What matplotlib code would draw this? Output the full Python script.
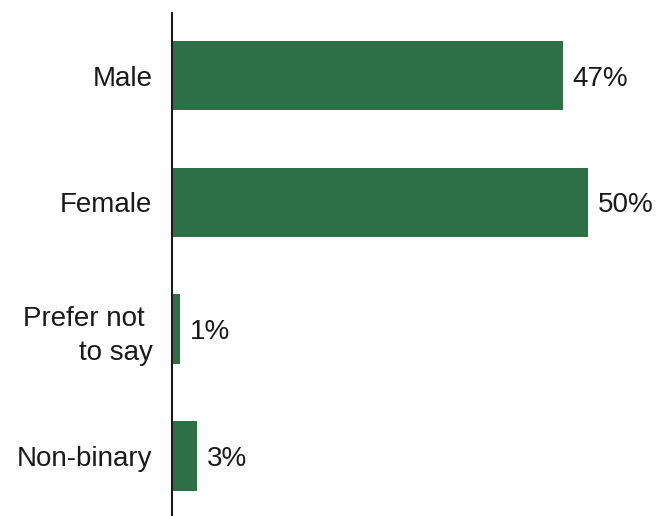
import matplotlib
matplotlib.use("Agg")
import matplotlib.pyplot as plt

# gender split of respondents
labels = ["Male", "Female", "Prefer not \nto say", "Non-binary"]
values = [47, 50, 1, 3]

green = "#2f6f48"
ink = "#1a1a1a"

plt.rcParams['font.family'] = ['Liberation Sans', 'DejaVu Sans']

fig = plt.figure(figsize=(6.56, 5.16), dpi=100)
ax = fig.add_axes([172 / 656, 0.0, 1 - 172 / 656, 1 - 12.7 / 516])

pos = list(range(len(labels)))
bars = ax.barh(pos, values, height=0.55, color=green)

for b, v in zip(bars, values):
	ax.text(b.get_width() + 1.2, b.get_y() + b.get_height() / 2, f"{v}%",
		va="center_baseline", ha="left", fontsize=20, color=ink)

ax.set_yticks(pos)
ax.set_yticklabels(labels, fontsize=20, color=ink, ha="right",
	linespacing=1.4, va="center_baseline")
ax.tick_params(axis="y", length=0, pad=14)
ax.set_xticks([])
ax.set_xlim(0, 58.2)
ax.set_ylim(3.47, -0.495)

for s in ("top", "right", "bottom"):
	ax.spines[s].set_visible(False)
ax.spines["left"].set_color(ink)
ax.spines["left"].set_linewidth(1.5)

fig.savefig("out.png", dpi=100)
